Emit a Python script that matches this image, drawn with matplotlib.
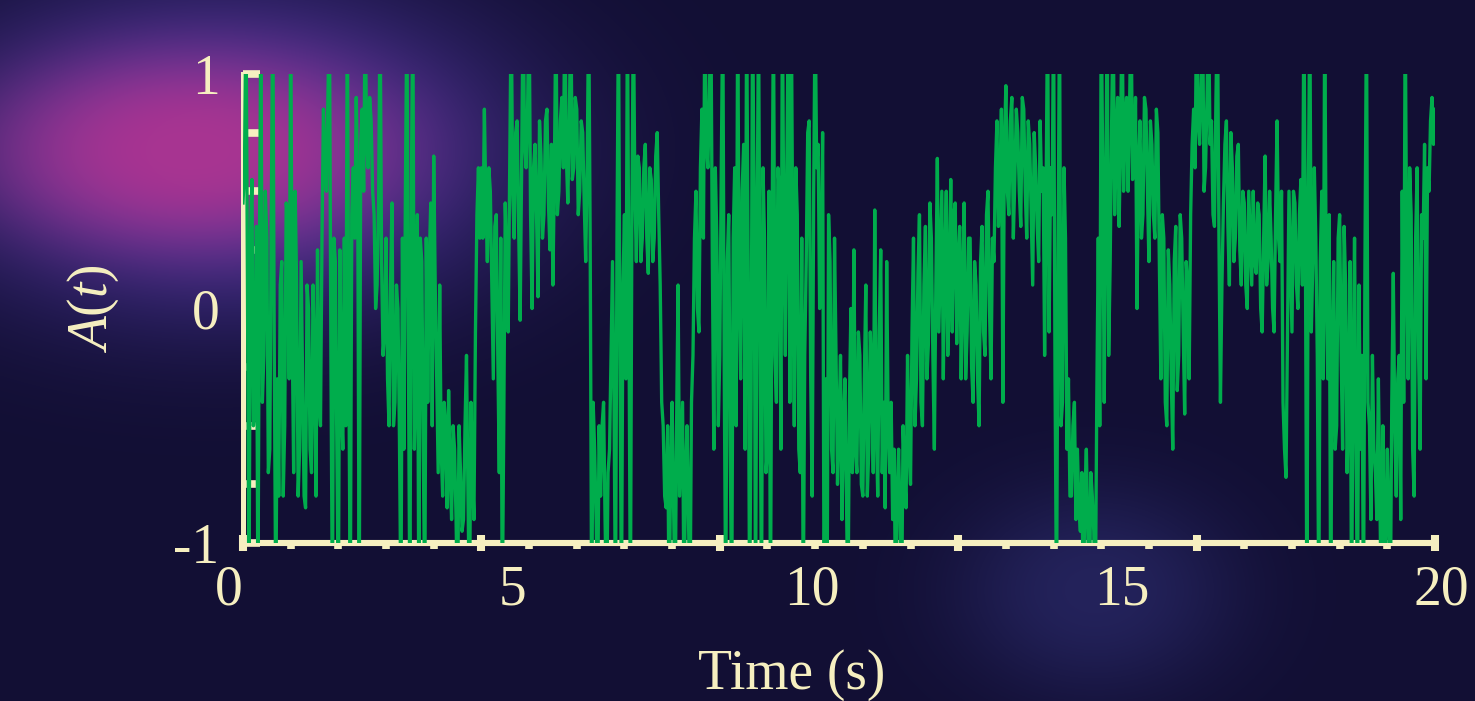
import numpy as np
import matplotlib
matplotlib.use("Agg")
import matplotlib.pyplot as plt
import matplotlib.transforms as mtransforms

# signal A(t), one row per second.
# amp_rows: samples at t = k*0.05 s; amp_mid_rows: samples half a step later.
# values beyond +-1 are spikes that get clipped at the frame
amp_rows = [
    [0.45, 1.3, -1.3, 0.55, -0.4, -1.3, 1.3, -0.2, 0.3, -0.6, 1.3, -1.3, -0.8, 0.2, -0.5, 0.4, 1.3, -0.7, 0.1, -0.6],
    [-0.3, -0.85, 0.0, -0.7, -0.2, 0.25, -0.5, 0.85, 0.5, 1.3, -1.3, 0.2, -1.3, -0.4, 0.3, 1.3, -1.3, 0.6, 0.9, -1.3],
    [0.85, 1.3, 0.6, 0.8, 0.4, 0.1, 1.3, -0.2, 0.3, -0.5, 0.45, -0.4, 0.0, -1.3, -0.6, 1.3, -1.3, 1.3, -0.3, -1.3],
    [0.2, -1.3, -0.4, 0.45, 0.65, -0.3, 0.1, -0.8, -0.5, -0.35, -0.9, -0.6, -1.3, -0.7, -0.9, -0.2, -1.3, -0.7, -0.1, 0.6],
    [0.6, 0.85, 0.2, 0.5, -0.3, 0.4, -0.7, -1.3, 0.45, -0.1, 1.3, 0.3, 0.8, -0.05, 1.3, 0.6, 1.3, 0.0, 0.7, 0.05],
    [0.65, 0.4, 0.85, 0.25, 0.1, 1.3, 0.5, 0.9, 1.3, 0.45, 1.3, 0.6, 0.85, 0.5, 0.75, 0.2, 1.3, -1.3, -0.6, -1.3],
    [-0.8, -0.4, -1.3, -0.6, 0.2, -1.3, 1.3, -1.3, 0.4, 1.3, -1.3, 1.3, 0.2, 0.6, 0.3, 0.7, 0.15, 0.55, 0.3, 0.75],
    [0.1, -0.5, -0.85, -1.3, -0.4, -1.3, 0.1, -0.6, -1.3, -0.5, -1.3, -0.2, 0.5, -0.1, 0.85, 1.3, 0.6, 1.3, -0.6, 0.3],
    [-0.2, 1.3, -1.3, 0.4, -1.3, 0.6, 1.3, -0.3, 0.7, 1.3, -1.3, 1.3, -1.3, 1.3, -1.3, 0.3, -0.6, -1.3, 1.3, -0.4],
    [0.5, 1.3, -0.2, 1.3, 1.3, -0.5, 0.4, -0.7, -1.3, 0.2, 0.8, -0.8, 1.3, 0.7, 0.2, -1.3, -1.3, 0.2, -0.7, -0.2],
    [-0.5, -0.9, -0.3, -1.3, 0.0, 0.25, -0.7, -0.2, -0.8, 0.1, -0.6, -0.3, 0.42, -0.8, 0.25, -0.4, 0.2, -0.7, -0.9, -1.3],
    [-0.6, -1.3, -0.7, -0.2, -0.75, 0.3, -0.3, 0.4, -0.5, 0.35, -0.15, 0.3, -0.6, 0.64, 0.2, -0.3, 0.5, 0.1, -0.1, 0.45],
    [0.2, -0.3, 0.45, -0.1, 0.3, -0.4, 0.1, -0.5, 0.35, -0.2, 0.5, -0.3, 0.2, 0.8, 0.5, -0.4, 0.95, 0.4, 0.9, 0.55],
    [0.75, 0.35, 0.85, 0.3, 0.7, 0.1, 0.6, 0.2, 0.5, -0.2, 1.3, 0.6, 1.3, -1.3, 1.3, -0.4, 0.3, -0.3, -0.8, -0.4],
    [-0.6, -0.95, -1.3, -0.6, -1.3, -0.8, -1.3, 0.3, 1.3, -0.4, 1.3, 0.2, 1.3, 0.7, 0.35, 1.3, 0.8, 0.5, 1.3, 0.6],
    [0.0, 0.8, 0.4, 0.85, 0.2, 0.7, 0.3, 0.75, -0.3, 0.3, -0.5, 0.1, -0.6, 0.35, -0.2, 0.3, -0.45, 0.1, 0.4, 0.85],
    [1.3, 0.7, 1.3, 0.6, 1.3, 0.8, 0.35, 1.3, -0.4, 0.45, 0.8, 0.1, 0.6, 0.3, 0.7, 0.1, 0.45, 0.0, 0.3, 0.5],
    [0.15, 0.4, -0.1, 0.65, 0.2, 0.3, -0.1, 0.8, 0.2, -0.4, -0.72, 0.5, -0.1, 0.45, 0.0, 0.55, 1.3, -1.3, 1.3, 0.2],
    [0.3, -1.3, 0.5, 1.3, -0.3, -1.3, 0.2, -0.5, 0.4, -0.6, 0.1, -0.4, -1.3, 0.3, -1.3, -0.6, -1.3, 1.3, -0.5, -0.2],
    [-0.7, -0.3, -1.3, -1.3, -0.6, -1.3, 0.15, -0.8, -0.2, 0.5, 1.3, -0.3, 0.4, -0.8, 0.6, -0.6, 0.3, -0.3, 0.5, 0.9],
]
amp_mid_rows = [
    [0.6, 0.1, 0.3, -0.5, 0.35, 0.2, -0.4, 0.5, -0.7, 0.4, -0.2, -0.3, 0.1, -0.8, 0.45, -0.3, -0.1, 0.5, -0.8, 0.2],
    [-0.8, 0.1, -0.6, 0.1, -0.8, -0.4, 0.3, 0.6, 0.9, -0.2, 0.3, -0.6, 0.25, -0.6, -0.5, -0.2, 0.4, 0.3, 0.5, 0.7],
    [0.5, 0.7, 0.9, 0.5, 0.0, 0.45, 0.2, -0.1, -0.3, 0.1, -0.5, 0.1, -0.55, 0.3, 0.5, -0.2, 0.5, -0.6, 0.4, 0.3],
    [-0.6, 0.3, 0.2, -0.5, 0.1, -0.7, -0.6, -0.4, -0.85, -0.7, -0.5, -0.9, -0.5, -0.95, -0.5, -0.8, -0.4, -0.9, 0.4, 0.3],
    [0.3, 0.45, 0.6, 0.1, 0.35, -0.2, 0.3, -0.5, 0.2, 0.6, 0.5, 0.75, 0.35, 0.6, 0.7, 0.85, 0.4, 0.6, 0.4, 0.8],
    [0.3, 0.8, 0.45, 0.7, 0.6, 0.4, 0.8, 0.6, 0.65, 0.8, 0.55, 0.9, 0.4, 0.8, 0.45, 0.6, 0.3, -0.4, -0.9, -0.5],
    [-0.5, -0.9, -0.7, -0.2, -0.4, 0.3, -0.2, 0.1, -0.3, 0.0, 0.4, 0.5, 0.65, 0.2, 0.6, 0.3, 0.6, 0.2, 0.65, 0.4],
    [-0.4, -0.8, -0.5, -0.7, -0.85, -0.5, -0.8, -0.4, -0.7, -0.9, -0.4, 0.3, 0.0, 0.6, 0.3, 0.7, 0.9, 0.2, 0.6, -0.5],
    [0.6, -0.3, 0.2, -0.6, 0.3, -0.5, 0.1, 0.5, -0.6, 0.2, -0.4, 0.5, 0.3, -0.2, 0.6, -0.7, 0.5, 0.2, -0.2, 0.6],
    [-0.6, 0.3, 0.6, -0.4, 0.2, 0.6, -0.6, 0.3, -0.2, 0.75, -0.3, 0.5, 0.6, 0.0, 0.75, -0.3, 0.4, -0.6, 0.3, -0.75],
    [-0.2, -0.5, -0.8, -0.4, -0.7, -0.6, -0.1, -0.75, -0.3, -0.8, -0.1, -0.7, -0.5, -0.1, -0.7, -0.85, -0.5, -0.4, -0.6, -0.8],
    [-0.9, -0.5, -0.85, -0.6, -0.1, -0.5, 0.15, -0.4, 0.1, -0.3, 0.45, -0.2, 0.1, -0.1, 0.5, 0.2, -0.2, 0.55, 0.4, -0.15],
    [0.35, 0.1, -0.3, 0.3, -0.25, 0.2, -0.3, 0.2, -0.1, 0.4, 0.0, 0.3, 0.6, 0.35, 0.85, 0.7, 0.5, 0.8, 0.3, 0.85],
    [0.5, 0.9, 0.5, 0.8, 0.4, 0.75, 0.35, 0.8, 0.6, 0.5, -0.1, 0.4, -0.3, 0.2, -0.5, 0.6, -0.6, -0.8, -0.5, -0.9],
    [-0.85, -0.7, -0.8, -0.95, -0.7, -0.95, -0.4, -0.5, 0.6, 0.5, -0.2, 0.8, 0.4, 0.9, 0.75, 0.5, 0.9, 0.85, 0.55, 0.9],
    [0.6, 0.3, 0.9, 0.5, 0.8, 0.4, 0.85, 0.2, 0.4, -0.4, 0.25, -0.3, 0.2, -0.35, 0.4, -0.1, 0.2, -0.3, 0.7, 0.6],
    [0.8, 0.95, 0.5, 0.9, 0.7, 0.4, 0.9, 0.3, 0.1, 0.7, 0.35, 0.75, 0.2, 0.65, 0.25, 0.5, 0.1, 0.5, 0.1, 0.2],
    [0.45, 0.0, 0.3, 0.1, 0.5, 0.0, 0.4, 0.3, 0.5, -0.6, -0.1, 0.2, 0.5, 0.1, 0.4, 0.1, 0.3, 0.5, -0.1, 0.6],
    [-0.2, 0.2, -0.3, 0.1, 0.4, -0.2, -0.6, 0.3, -0.2, 0.35, -0.7, 0.2, -0.3, -0.6, 0.1, -0.2, 0.2, -0.4, -0.9, -0.6],
    [-0.9, -0.8, -0.5, -0.9, -0.95, -0.4, -0.5, -0.3, -0.9, -0.4, 0.2, 0.6, -0.6, 0.3, -0.2, 0.4, 0.7, 0.6, 0.8, 0.7],
]
amp_last = [0.85]

x_tick_values = [0, 5, 10, 15, 20]
y_tick_values = [-1, -0.75, -0.5, -0.25, 0, 0.25, 0.5, 0.75, 1]
y_tick_labels = ['-1', '', '', '', '0', '', '', '', '1']

amp = []
for row, mid in zip(amp_rows, amp_mid_rows):
    for a, b in zip(row, mid):
        amp += [a, b]
amp = np.array(amp + amp_last)
t = np.linspace(0, 20, len(amp))

BG = np.array([18, 15, 52]) / 255.0
CREAM = '#f6efc0'
GREEN = '#00ad4c'

plt.rcParams['font.family'] = ['Liberation Serif', 'DejaVu Serif']
plt.rcParams['mathtext.fontset'] = 'custom'
plt.rcParams['mathtext.rm'] = 'Liberation Serif'
plt.rcParams['mathtext.it'] = 'Liberation Serif:italic'

W, H = 1475, 701
fig = plt.figure(figsize=(W / 100, H / 100), dpi=100)
fig.patch.set_facecolor(BG)

# glowing blobs behind the chart
yy, xx = np.mgrid[0:H, 0:W]


def blob(cx, cy, sx, sy, p=1.0):
    r2 = ((xx - cx) / sx) ** 2 + ((yy - cy) / sy) ** 2
    return np.exp(-0.5 * r2 ** p)


img = np.ones((H, W, 3)) * BG
halo = np.array([78, 55, 160]) / 255.0
pink = np.array([168, 52, 145]) / 255.0
blue = np.array([45, 45, 112]) / 255.0
a = 0.95 * blob(220, 150, 230, 130, 1.3)[..., None]
img = img + a * (halo - img)
a = 1.0 * blob(190, 150, 155, 75, 1.4)[..., None]
img = img + a * (pink - img)
a = 0.65 * blob(1095, 590, 105, 78, 1.2)[..., None]
img = img + a * (blue - img)

bg_ax = fig.add_axes([0, 0, 1, 1], zorder=-10)
bg_ax.imshow(img, aspect='auto', interpolation='bilinear')
bg_ax.axis('off')

ax = fig.add_axes([243 / W, 1 - 543 / H, (1435 - 243) / W, (543 - 74) / H])
ax.set_facecolor('none')

ax.plot(t, amp, color=GREEN, lw=2.4, zorder=3)

ax.set_xlim(0, 20)
ax.set_ylim(-1, 1)

for side in ['top', 'right']:
    ax.spines[side].set_visible(False)
ax.spines['left'].set_color(CREAM)
ax.spines['left'].set_linewidth(3.6)
ax.spines['bottom'].set_color(CREAM)
ax.spines['bottom'].set_linewidth(4.4)

# tick marks: y inward every 0.25, x big marks every 4 s with small ones between
ax.set_yticks(y_tick_values)
ax.set_yticklabels(y_tick_labels)
ax.tick_params(axis='y', direction='in', length=12.5, width=5.5, color=CREAM,
               labelcolor=CREAM, labelsize=40, pad=17)
ax.set_xticks(np.arange(0, 20.1, 4))
ax.set_xticklabels([])
ax.set_xticks(np.arange(0, 20.1, 0.8), minor=True)
ax.tick_params(axis='x', which='major', direction='inout', length=12, width=5.8, color=CREAM)
ax.tick_params(axis='x', which='minor', direction='out', length=4.3, width=5.5, color=CREAM)

# x labels sit where the original put them, not on the tick marks
label_x = [-0.235, 4.53, 9.55, 14.75, 20.1]
trans = mtransforms.blended_transform_factory(ax.transData, ax.transAxes)
for xv, lab in zip(label_x, x_tick_values):
    ax.text(xv, -0.102, str(lab), transform=trans, ha='center', va='center',
            fontsize=40, color=CREAM, clip_on=False)

ax.set_xlabel('Time (s)', fontsize=40, color=CREAM)
ax.xaxis.set_label_coords(0.4606, -0.226)
ax.set_ylabel('$A(t)$', fontsize=40, color=CREAM)
ax.yaxis.set_label_coords(-0.102, 0.5)

fig.savefig('out.png', dpi=100, facecolor=fig.get_facecolor())
